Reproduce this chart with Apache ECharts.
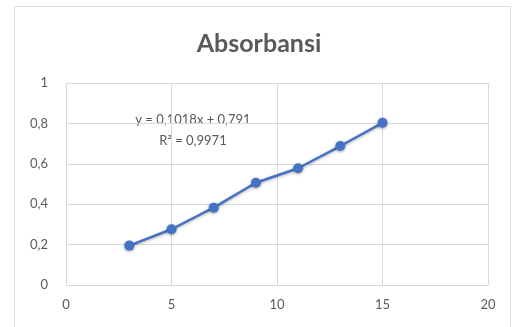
<!DOCTYPE html>
<html><head><meta charset="utf-8">
<script src="https://cdn.jsdelivr.net/npm/echarts@6/dist/echarts.min.js"></script>
<style>html,body{margin:0;padding:0;background:#fff}#c{width:518px;height:327px}</style>
</head><body><div id="c"></div>
<script>
const xValues = [3, 5, 7, 9, 11, 13, 15];
const yValues = [0.195, 0.276, 0.383, 0.506, 0.578, 0.688, 0.803];
const titleText = 'Absorbansi';
const equationLines = ['y = 0,1018x + 0,791', 'R² = 0,9971'];
const fmt = v => String(v).replace('.', ',');

const chart = echarts.init(document.getElementById('c'));
const font = 'Lato, "Open Sans", sans-serif';
chart.setOption({
  animation: false,
  title: { text: titleText, left: 'center', top: 26, textStyle: { fontFamily: font, fontSize: 25, fontWeight: 'bold', color: '#595959' } },
  graphic: [
    { type: 'rect', shape: { x: 14.5, y: 6.5, width: 496, height: 330 }, style: { fill: 'none', stroke: '#d9d9d9', lineWidth: 1 }, silent: true },
    { type: 'text', x: 193, y: 120, style: { text: equationLines[0], fill: '#595959', font: '13px ' + font, textAlign: 'center', textVerticalAlign: 'middle' } },
    { type: 'text', x: 193, y: 141, style: { text: equationLines[1], fill: '#595959', font: '13px ' + font, textAlign: 'center', textVerticalAlign: 'middle' } }
  ],
  grid: { left: 66, right: 30, top: 83, bottom: 42 },
  xAxis: {
    type: 'value', min: 0, max: 20, interval: 5,
    axisLine: { show: false }, axisTick: { show: false },
    axisLabel: { color: '#595959', fontFamily: font, fontSize: 13, margin: 13 },
    splitLine: { lineStyle: { color: '#d9d9d9' } }
  },
  yAxis: {
    type: 'value', min: 0, max: 1, interval: 0.2,
    axisLine: { show: false }, axisTick: { show: false },
    axisLabel: { color: '#595959', fontFamily: font, fontSize: 13, margin: 18, formatter: v => fmt(Math.round(v * 10) / 10) },
    splitLine: { lineStyle: { color: '#d9d9d9' } }
  },
  series: [{
    type: 'line',
    data: xValues.map((x, i) => [x, yValues[i]]),
    symbol: 'circle', symbolSize: 10,
    lineStyle: { color: '#4472C4', width: 2.5, shadowColor: 'rgba(0,0,0,0.3)', shadowBlur: 3, shadowOffsetY: 1 },
    itemStyle: { color: '#4472C4', shadowColor: 'rgba(0,0,0,0.35)', shadowBlur: 3, shadowOffsetY: 1 }
  }]
});
</script></body></html>
